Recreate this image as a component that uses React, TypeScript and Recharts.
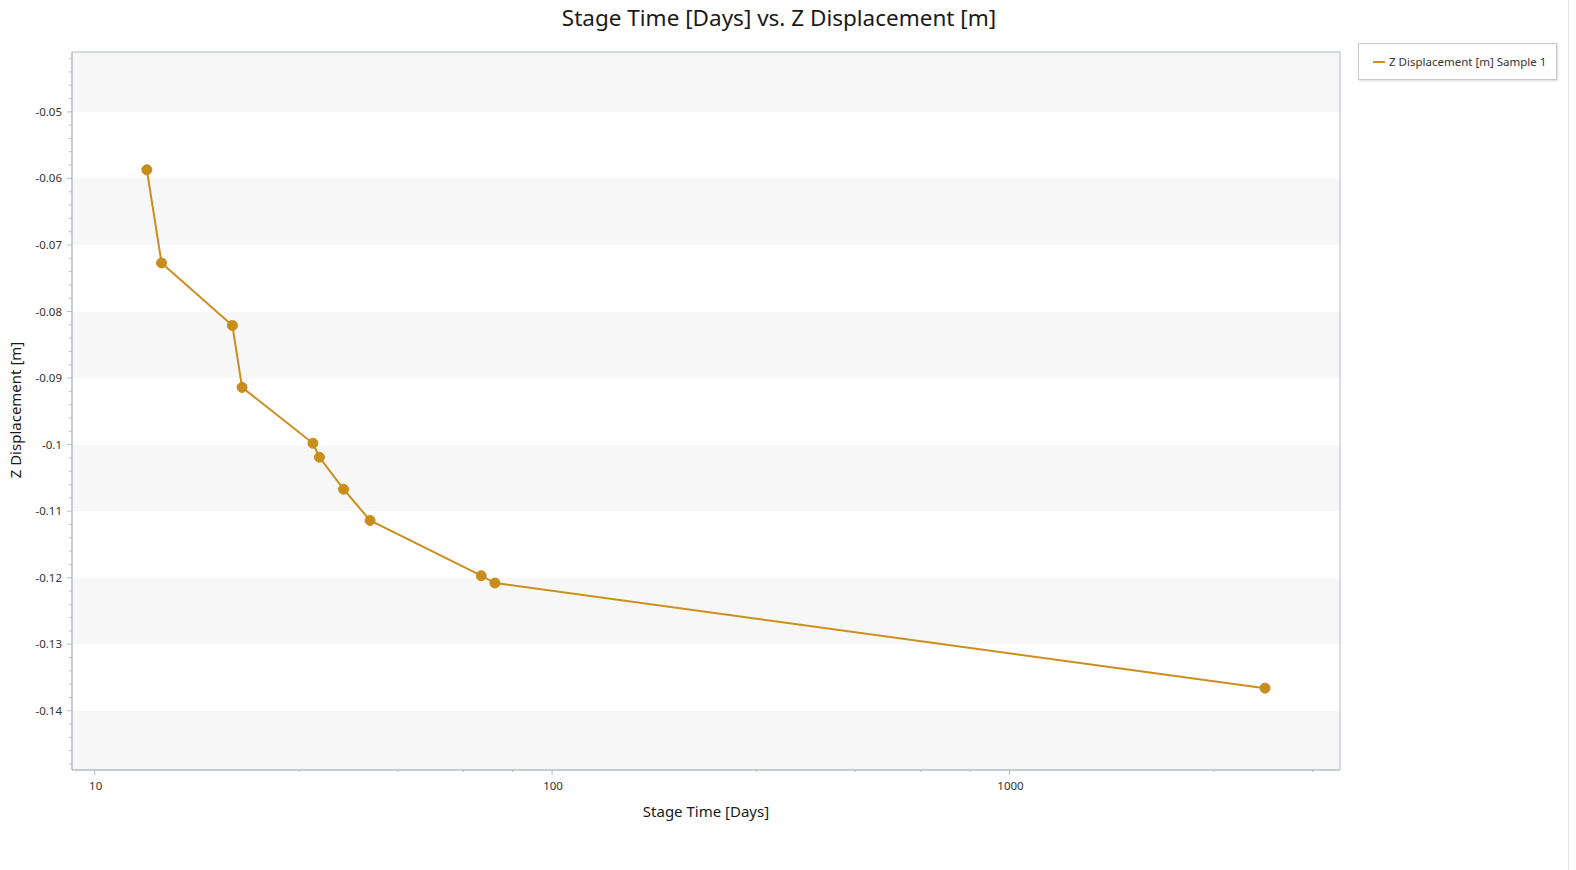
import React from 'react';
import { LineChart, Line, XAxis, YAxis, CartesianGrid, ReferenceArea, Legend } from 'recharts';

// Stage time [days] and Z displacement [m]
const stageTime = [13, 14, 20, 21, 30, 31, 35, 40, 70, 75, 3620];
const zDisplacement = [-0.0587, -0.0727, -0.0821, -0.0914, -0.0998, -0.1019, -0.1067, -0.1114, -0.1197, -0.1208, -0.1366];

const xMajorTicks = [10, 100, 1000];
const xMinorTicks = [28, 46, 64, 82, 280, 460, 640, 820, 2800, 4600];
const yMajorTicks = [-0.05, -0.06, -0.07, -0.08, -0.09, -0.1, -0.11, -0.12, -0.13, -0.14];
const yMinorTicks = [
  -0.042, -0.044, -0.046, -0.048,
  -0.052, -0.054, -0.056, -0.058,
  -0.062, -0.064, -0.066, -0.068,
  -0.072, -0.074, -0.076, -0.078,
  -0.082, -0.084, -0.086, -0.088,
  -0.092, -0.094, -0.096, -0.098,
  -0.102, -0.104, -0.106, -0.108,
  -0.112, -0.114, -0.116, -0.118,
  -0.122, -0.124, -0.126, -0.128,
  -0.132, -0.134, -0.136, -0.138,
  -0.142, -0.144, -0.146, -0.148,
];
const xDomain = [8.92, 5280];
const yDomain = [-0.1489, -0.041];

const SERIES_NAME = 'Z Displacement [m] Sample 1';
const LINE = '#cc8f1f';
const DOT = '#c98d1b';
const AXIS = '#b5bcc7';
const FONT = '"Noto Sans", "Open Sans", sans-serif';

const data = stageTime.map((t, i) => ({ t, z: zDisplacement[i] }));

const isIn = (list: number[], v: number) => list.some(m => Math.abs(m - v) < 1e-9);
const fmtY = (v: number) => String(Number(v.toFixed(3)));

const XTick = (props: any) => {
  const { x, y, payload } = props;
  const major = isIn(xMajorTicks, payload.value);
  return (
    <g>
      <line x1={x} x2={x} y1={y} y2={y + (major ? 5 : 2)} stroke={AXIS} />
      {major && (
        <text x={x + 1} y={y + 20} textAnchor="middle" fontSize={11.5} fill="#333" fontFamily={FONT}>
          {payload.value}
        </text>
      )}
    </g>
  );
};

const YTick = (props: any) => {
  const { x, y, payload } = props;
  const major = isIn(yMajorTicks, payload.value);
  return (
    <g>
      <line x1={x} x2={x - (major ? 5 : 3)} y1={y} y2={y} stroke={AXIS} />
      {major && (
        <text x={x - 10} y={y + 4} textAnchor="end" fontSize={11.5} fill="#333" fontFamily={FONT}>
          {fmtY(payload.value)}
        </text>
      )}
    </g>
  );
};

const LegendBox = () => (
  <div style={{
    width: 197, height: 35, border: '1px solid #c6c9ce', background: '#fff',
    boxShadow: '1px 1px 2px rgba(0,0,0,0.15)', display: 'flex', alignItems: 'center',
    fontFamily: FONT, fontSize: 11.5, color: '#333', boxSizing: 'content-box'
  }}>
    <span style={{ display: 'inline-block', width: 12, height: 2, background: LINE, marginLeft: 14, marginRight: 4 }} />
    <span>{SERIES_NAME}</span>
  </div>
);

export default function App() {
  return (
    <div style={{ position: 'relative', width: 1576, height: 870, background: '#fff', fontFamily: FONT }}>
      <style>{'body{margin:0;background:#fff}'}</style>

      <div style={{ position: 'absolute', left: 5, top: 2, width: 1548, textAlign: 'center', fontSize: 22.5, color: '#1a1a1a' }}>
        Stage Time [Days] vs. Z Displacement [m]
      </div>

      <LineChart width={1576} height={870} data={data} margin={{ top: 52, right: 236, left: 12, bottom: 40 }}>
        <YAxis
          yAxisId="y"
          type="number"
          domain={yDomain}
          allowDataOverflow
          ticks={[...yMajorTicks, ...yMinorTicks]}
          interval={0}
          tick={<YTick />}
          tickLine={false}
          tickSize={0}
          tickMargin={0}
          axisLine={{ stroke: AXIS }}
          width={60}
        />
        <YAxis yAxisId="grid" type="number" domain={yDomain} allowDataOverflow ticks={yMajorTicks} interval={0} width={0} hide />
        <CartesianGrid
          yAxisId="grid"
          xAxisId="x"
          vertical={false}
          stroke="none"
          horizontalFill={['#f7f7f7', '#ffffff']}
        />
        <XAxis
          xAxisId="x"
          dataKey="t"
          type="number"
          scale="log"
          domain={xDomain}
          allowDataOverflow
          ticks={[...xMajorTicks, ...xMinorTicks]}
          interval={0}
          tick={<XTick />}
          tickLine={false}
          tickSize={0}
          tickMargin={0}
          axisLine={{ stroke: AXIS }}
          height={60}
        />
        <ReferenceArea
          xAxisId="x"
          yAxisId="y"
          x1={xDomain[0]}
          x2={xDomain[1]}
          y1={yDomain[0]}
          y2={yDomain[1]}
          fill="none"
          fillOpacity={0}
          stroke={AXIS}
          strokeWidth={1}
          ifOverflow="visible"
        />
        <Legend
          layout="horizontal"
          verticalAlign="middle"
          align="center"
          content={<LegendBox />}
          wrapperStyle={{ top: 43, left: 1358, width: 'auto', height: 'auto' }}
        />
        <Line
          xAxisId="x"
          yAxisId="y"
          dataKey="z"
          name={SERIES_NAME}
          stroke={LINE}
          strokeWidth={2}
          dot={{ r: 5, fill: DOT, stroke: DOT, strokeWidth: 1 }}
          isAnimationActive={false}
        />
      </LineChart>

      <div style={{ position: 'absolute', left: 556, top: 801, width: 300, textAlign: 'center', fontSize: 15, color: '#1a1a1a' }}>
        Stage Time [Days]
      </div>
      <div style={{
        position: 'absolute', left: 15, top: 410, width: 200, marginLeft: -100, marginTop: -11,
        textAlign: 'center', fontSize: 15, color: '#1a1a1a', transform: 'rotate(-90deg)', lineHeight: '22px'
      }}>
        Z Displacement [m]
      </div>
      <div style={{ position: 'absolute', left: 1568, top: 0, width: 1, height: 870, background: '#e2e4e8' }} />
    </div>
  );
}
